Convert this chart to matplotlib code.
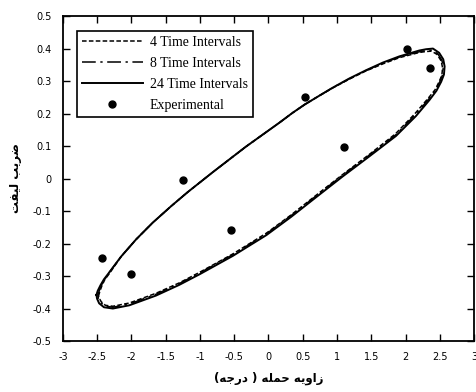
import numpy as np
import matplotlib
matplotlib.use('Agg')
import matplotlib.pyplot as plt

# experimental points
exp_alpha = [-2.43, -2.0, -1.24, -0.54, 0.53, 1.10, 2.02, 2.36]
exp_cl = [-0.246, -0.295, -0.005, -0.157, 0.252, 0.097, 0.398, 0.340]

# 24 time intervals (read around the loop, upper branch then lower branch)
a24 = [-2.51, -2.49, -2.45, -2.40, -2.32, -2.15, -1.93, -1.69, -1.42, -1.18, -0.81, -0.33, 0.16, 0.35, 0.53,
       0.75, 0.94, 1.18, 1.42, 1.67, 1.91, 2.20, 2.30, 2.40, 2.49, 2.55, 2.57, 2.56, 2.52, 2.45, 2.35, 2.15, 1.86, 1.47,
       1.08, 0.74, 0.33, -0.03, -0.52, -1.00, -1.30, -1.64, -2.03, -2.27, -2.40, -2.47, -2.50, -2.51]
cl24 = [-0.358, -0.345, -0.328, -0.310, -0.288, -0.240, -0.187, -0.136, -0.085, -0.042, 0.020, 0.098, 0.172, 0.202, 0.228,
        0.256, 0.280, 0.308, 0.333, 0.357, 0.376, 0.394, 0.398, 0.400, 0.387, 0.367, 0.345, 0.320, 0.298, 0.270, 0.242, 0.192, 0.131, 0.068,
        0.006, -0.050, -0.118, -0.174, -0.238, -0.294, -0.327, -0.360, -0.390, -0.400, -0.396, -0.384, -0.370, -0.358]

# 8 time intervals
a8 = [-2.49, -2.47, -2.44, -2.39, -2.32, -2.15, -1.93, -1.69, -1.42, -1.18, -0.81, -0.33, 0.16, 0.35, 0.53,
      0.75, 0.94, 1.18, 1.42, 1.67, 1.91, 2.20, 2.30, 2.39, 2.47, 2.53, 2.55, 2.54, 2.50, 2.44, 2.34, 2.14, 1.86, 1.47,
      1.08, 0.74, 0.33, -0.03, -0.52, -1.00, -1.30, -1.64, -2.03, -2.27, -2.39, -2.45, -2.48, -2.49]
cl8 = [-0.360, -0.346, -0.329, -0.311, -0.288, -0.240, -0.187, -0.136, -0.085, -0.042, 0.020, 0.098, 0.172, 0.202, 0.228,
       0.256, 0.280, 0.307, 0.332, 0.355, 0.374, 0.390, 0.394, 0.395, 0.384, 0.364, 0.343, 0.319, 0.298, 0.272, 0.245, 0.196, 0.135, 0.072,
       0.010, -0.046, -0.114, -0.170, -0.234, -0.290, -0.323, -0.356, -0.386, -0.396, -0.392, -0.381, -0.369, -0.360]

# 4 time intervals
a4 = [-2.48, -2.46, -2.43, -2.39, -2.31, -2.15, -1.93, -1.69, -1.42, -1.18, -0.81, -0.33, 0.16, 0.35, 0.53,
      0.75, 0.94, 1.18, 1.42, 1.67, 1.91, 2.20, 2.30, 2.38, 2.46, 2.52, 2.54, 2.53, 2.49, 2.43, 2.33, 2.13, 1.85, 1.47,
      1.08, 0.74, 0.33, -0.03, -0.52, -1.00, -1.30, -1.64, -2.03, -2.27, -2.38, -2.44, -2.47, -2.48]
cl4 = [-0.362, -0.347, -0.330, -0.312, -0.289, -0.240, -0.187, -0.136, -0.085, -0.042, 0.020, 0.098, 0.172, 0.202, 0.228,
       0.256, 0.279, 0.306, 0.331, 0.353, 0.372, 0.388, 0.391, 0.392, 0.382, 0.362, 0.341, 0.318, 0.298, 0.273, 0.247, 0.198, 0.137, 0.074,
       0.012, -0.044, -0.112, -0.168, -0.232, -0.288, -0.321, -0.353, -0.383, -0.393, -0.390, -0.379, -0.368, -0.362]

xticks = [-3, -2.5, -2, -1.5, -1, -0.5, 0, 0.5, 1, 1.5, 2, 2.5, 3]
xticklabels = ['-3', '-2.5', '-2', '-1.5', '-1', '-0.5', '0', '0.5', '1', '1.5', '2', '2.5', '3']
yticks = [-0.5, -0.4, -0.3, -0.2, -0.1, 0, 0.1, 0.2, 0.3, 0.4, 0.5]
yticklabels = ['-0.5', '-0.4', '-0.3', '-0.2', '-0.1', '0', '0.1', '0.2', '0.3', '0.4', '0.5']

# persian labels in presentation forms, visual order
xlabel_txt = '(\ufeea\ufe9f\ufead\ufea9 ) \ufeea\ufee0\ufee4\ufea3 \ufeea\ufbfe\ufeed\ufe8d\ufeaf'
ylabel_txt = '\ufe96\ufed4\ufbff\ufedf \ufe90\ufbfe\ufeae\ufebf'

fig = plt.figure(figsize=(4.76, 3.92), dpi=100)
ax = fig.add_axes([0.132, 0.130, 0.864, 0.829])

ax.plot(a4, cl4, color='k', lw=1.1, linestyle=(0, (3, 1.5)), label='4 Time Intervals')
ax.plot(a8, cl8, color='k', lw=1.1, linestyle=(0, (9, 3, 1.5, 3)), label='8 Time Intervals')
ax.plot(a24, cl24, color='k', lw=1.4, linestyle='-', label='24 Time Intervals')
ax.plot(exp_alpha, exp_cl, 'o', color='k', markersize=5, label='Experimental')

ax.set_xlim(-3, 3)
ax.set_ylim(-0.5, 0.5)
ax.set_xticks(xticks)
ax.set_xticklabels(xticklabels)
ax.set_yticks(yticks)
ax.set_yticklabels(yticklabels)
ax.tick_params(direction='in', top=True, right=True, length=5, width=1, labelsize=7, pad=8)
for sp in ax.spines.values():
    sp.set_linewidth(1.3)

ax.set_xlabel(xlabel_txt, fontsize=8.5, fontweight='bold', labelpad=7)
ax.set_ylabel(ylabel_txt, fontsize=8.5, fontweight='bold', labelpad=8)

leg = ax.legend(loc='upper left', bbox_to_anchor=(0.034, 0.954), borderaxespad=0,
                prop={'family': 'Liberation Serif', 'size': 10}, fancybox=False,
                edgecolor='k', framealpha=1, handlelength=4.4, handletextpad=0.5,
                labelspacing=0.58, borderpad=0.35, numpoints=1)
leg.get_frame().set_linewidth(1.2)

plt.savefig('out.png', dpi=100)
